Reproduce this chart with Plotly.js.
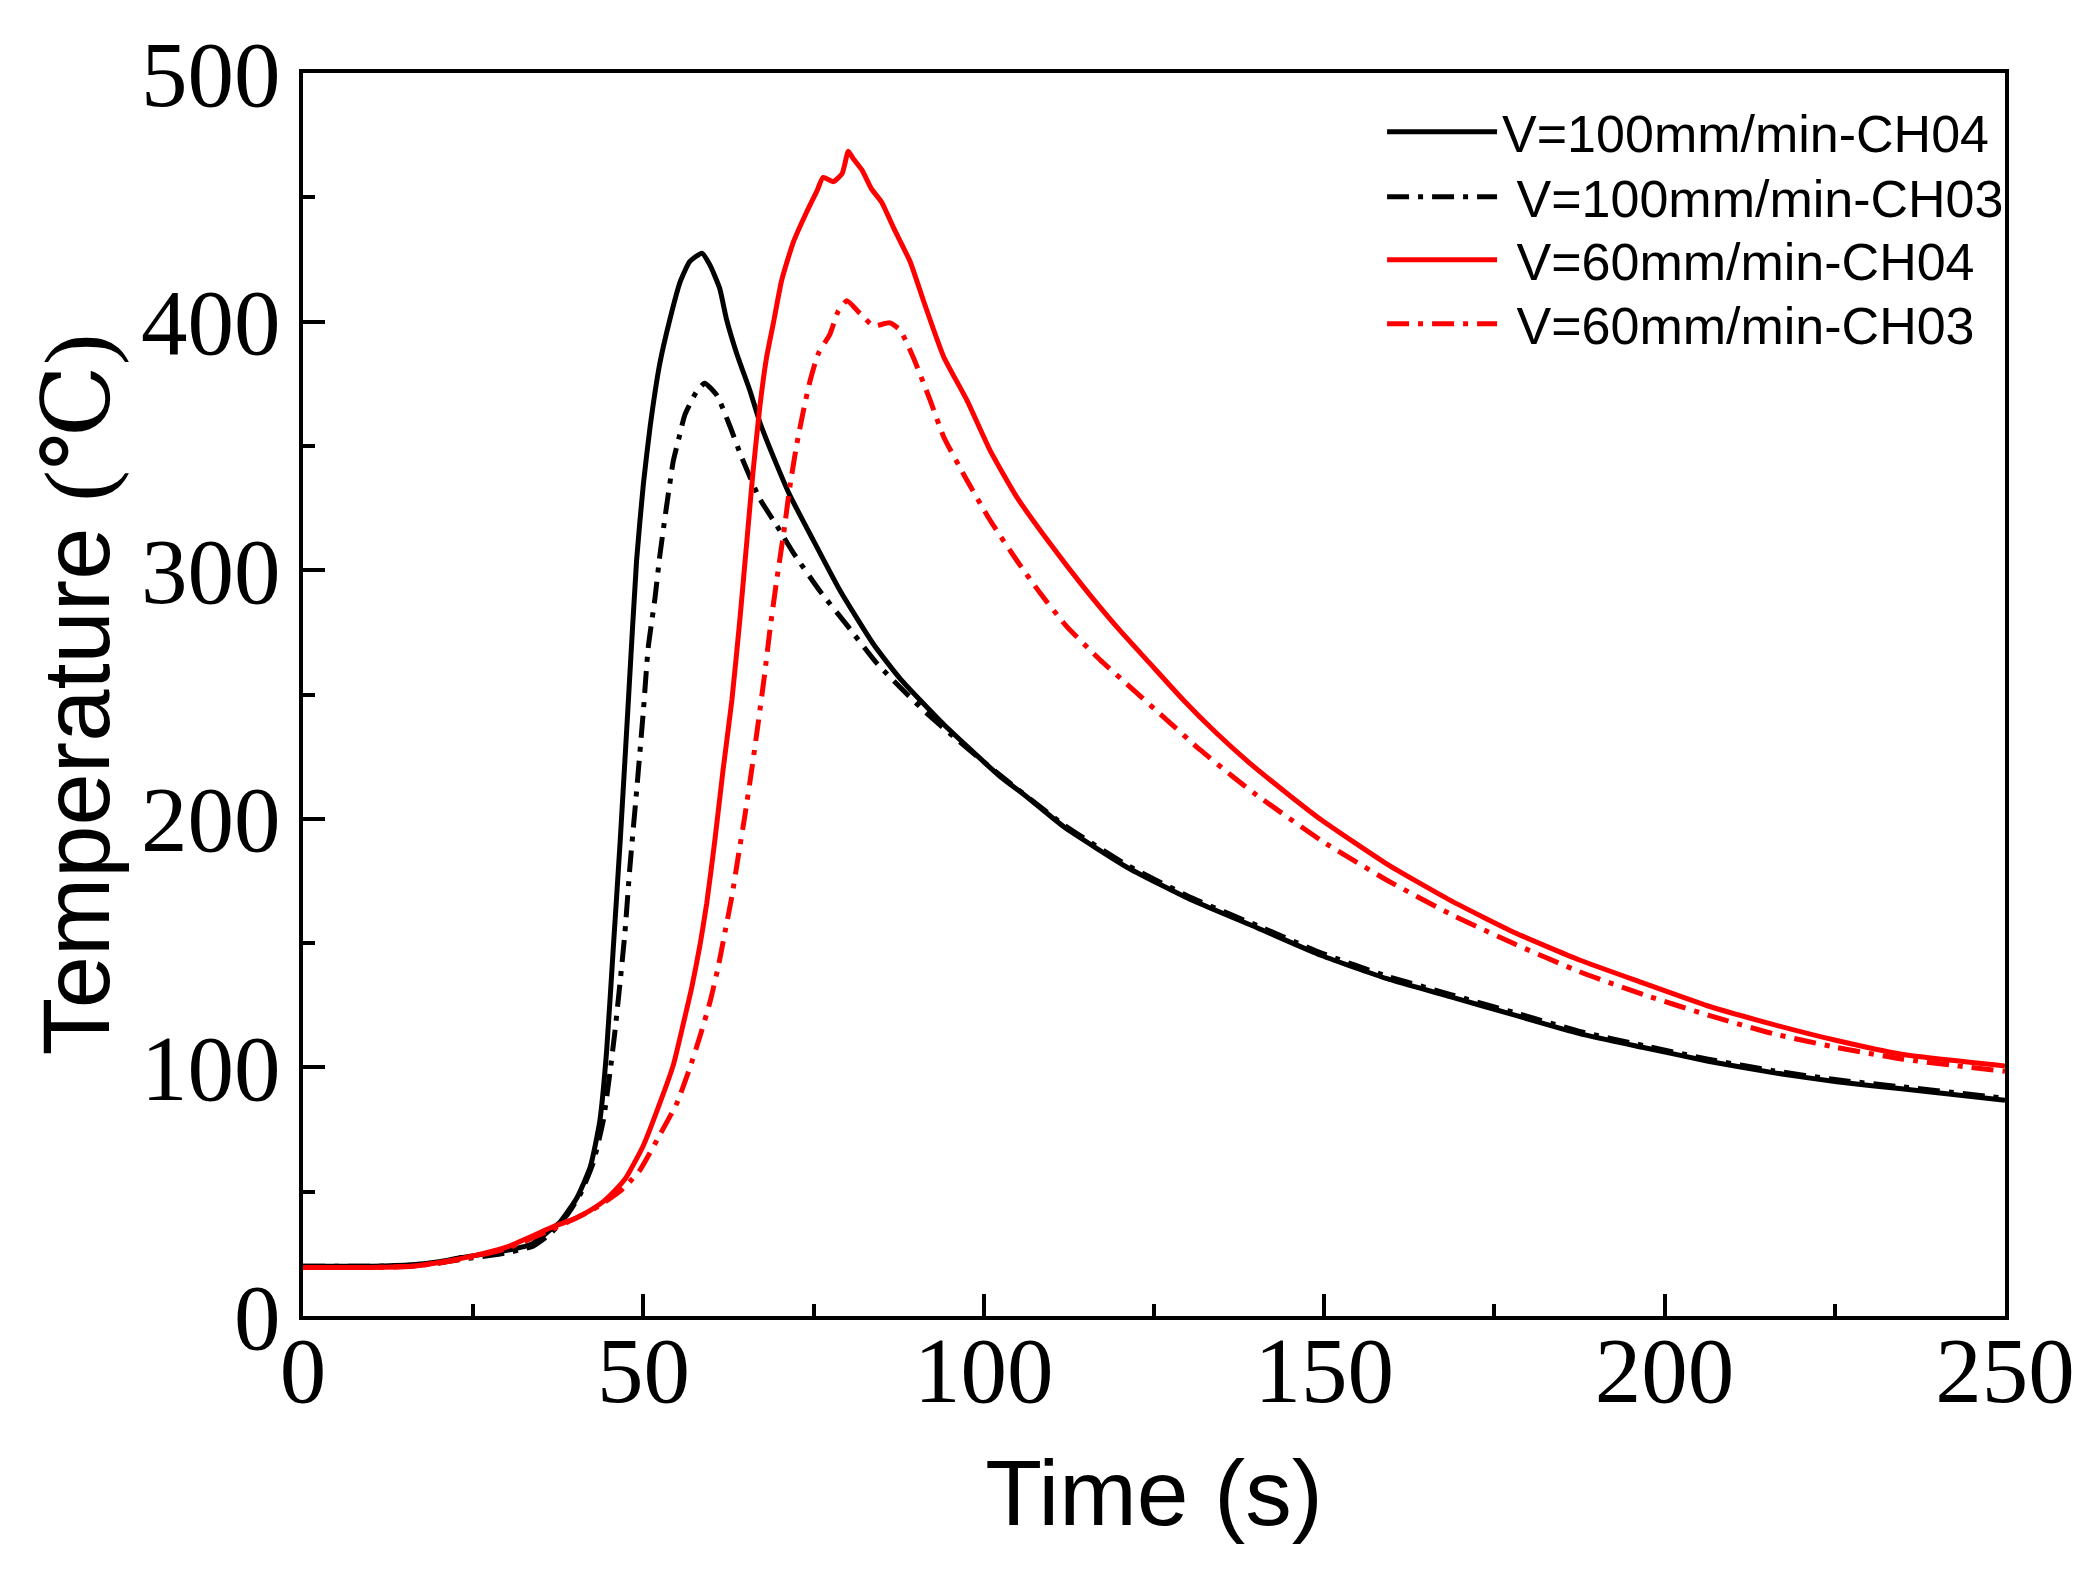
<!DOCTYPE html>
<html>
<head>
<meta charset="utf-8">
<script src="https://cdn.plot.ly/plotly-3.0.1.min.js"></script>
<style>
  body { margin: 0; background: #fff; }
  #chart { width: 2094px; height: 1582px; }
</style>
</head>
<body>
<div id="chart"></div>
<script>
// V=100mm/min-CH04 (black solid)
const t100ch04 = [0, 10, 16, 20, 23.2, 29.1, 33.7, 36.3, 37.7, 40.2, 42.2, 43.6, 44.6, 45.6, 46.6, 47.8, 49.0, 50.0, 51.0, 52.4, 53.9, 55.4, 56.8, 58.6, 59.8, 61.2, 62.2, 63.7, 65.7, 67.1, 69.1, 71.5, 75.0, 78.9, 83.8, 87.7, 94.1, 102.4, 106.3, 111.8, 121.3, 130.7, 140.2, 149.6, 159.1, 168.6, 178, 187.5, 196.9, 206.4, 215.9, 225.3, 234.8, 250];
const T100ch04 = [20, 20, 20.6, 21.8, 23.5, 25.9, 29.1, 34.6, 37.6, 47.4, 60, 78.5, 106.7, 149, 191.4, 247.8, 304, 334.8, 358, 383, 401, 416, 424.1, 427.5, 422.6, 413.4, 401, 387.2, 371.8, 359.5, 345.6, 330.2, 311.8, 291.7, 270.2, 256.4, 238, 217, 208.9, 196.7, 180.1, 167.1, 156.1, 145, 135.8, 128.4, 121, 113.6, 108, 102.5, 97.9, 94.2, 91.4, 86.8];

// V=100mm/min-CH03 (black dash-dot)
const t100ch03 = [0, 10, 16, 20, 23.2, 29.1, 33.7, 36.3, 38.9, 40.7, 42.6, 44.1, 45.1, 45.8, 46.6, 47.3, 48.0, 49.0, 50.0, 50.7, 51.7, 52.4, 53.4, 54.4, 55.1, 56.1, 57.8, 59.0, 60.8, 62.7, 64.4, 67.1, 69.6, 72.0, 75.9, 79.9, 84.3, 88.7, 91.6, 96, 102.4, 111.8, 121.3, 130.7, 140.2, 149.6, 159.1, 168.6, 178, 187.5, 196.9, 206.4, 215.9, 225.3, 234.8, 250];
const T100ch03 = [20, 20, 20.4, 21.3, 22.8, 25, 28, 33, 41, 48.8, 61.5, 78.5, 98.2, 114, 134.9, 154.7, 180, 211.1, 243.6, 268.7, 288.7, 305.6, 325.7, 344.1, 351.8, 362.6, 371.8, 375.2, 370.3, 358, 345.6, 328.7, 317.9, 307.1, 291.7, 277.9, 262.5, 250.2, 242.5, 232, 217.5, 197.5, 181, 168, 157, 146, 136.8, 129.3, 122, 114.5, 108.8, 103.3, 98.7, 95, 92.2, 87.6];

// V=60mm/min-CH04 (red solid)
const t60ch04 = [0, 10, 16, 20, 25, 30, 36.3, 40.2, 42.2, 44.1, 46.0, 47.5, 50.0, 52.4, 54.4, 55.9, 57.1, 58.3, 59.3, 60.5, 61.7, 63.0, 64.2, 65.2, 66.1, 67.1, 68.1, 69.1, 70.3, 72.0, 74.0, 75.5, 76.4, 77.9, 79.2, 80.1, 80.8, 82.1, 83.5, 85.0, 86.7, 89.2, 91.1, 94.1, 97.5, 100.9, 104.8, 109.7, 114.6, 119.5, 124.4, 129.3, 134.2, 139.1, 144.5, 149.6, 159.1, 168.6, 178, 187.5, 196.9, 206.4, 215.9, 225.3, 234.8, 250];
const T60ch04 = [19.5, 19.5, 20, 21.5, 24.2, 27.8, 35.4, 39.5, 42.5, 46, 51, 55.9, 68.6, 85.5, 101, 118, 132.1, 149, 166, 191.4, 219.6, 247.8, 281, 311.8, 339.5, 365.7, 385.7, 399.5, 416.5, 431.8, 444.2, 452.6, 458, 456.3, 459.6, 468.5, 465.6, 461, 453.4, 448, 438, 424, 408.7, 385.9, 368.5, 348.3, 329.6, 310.8, 293.4, 277.3, 262.5, 247.8, 234.4, 222.3, 210.3, 199.5, 182, 167.1, 154.2, 143.2, 133.9, 124.7, 117.3, 110.8, 105.3, 100.6];

// V=60mm/min-CH03 (red dash-dot)
const t60ch03 = [0, 10, 16, 20, 25, 30, 36.3, 40.2, 43.5, 46.6, 48.0, 49.5, 52.4, 54.9, 56.8, 58.3, 59.8, 61.0, 62.0, 63.0, 63.9, 64.9, 65.9, 66.9, 67.8, 68.6, 69.6, 70.6, 71.5, 72.5, 73.5, 74.5, 75.7, 77.4, 78.6, 79.9, 81.8, 83.8, 86.2, 87.7, 89.6, 92.1, 94.1, 97.5, 100.9, 104.8, 108.3, 112.2, 117.1, 122.0, 126.9, 131.8, 136.6, 140.1, 149.6, 159.1, 168.6, 178, 187.5, 196.9, 206.4, 215.9, 225.3, 234.8, 250];
const T60ch03 = [19.5, 19.5, 20, 21.3, 23.8, 27.2, 34.5, 39.5, 44.3, 50.2, 54, 58.7, 72.8, 85.5, 99.6, 112.4, 126.5, 140.6, 154.7, 168.8, 184.3, 201.2, 219.6, 239.3, 258, 276.3, 296.4, 314.8, 333.3, 350.2, 364.1, 376.4, 387.2, 394.9, 404.1, 408.4, 403.3, 398.3, 399.5, 396.6, 385.9, 368.5, 353.7, 336.3, 320.2, 304.1, 290.7, 277.3, 263.9, 251.8, 239.7, 227.7, 216.9, 209.5, 191.2, 175.5, 161.6, 149.6, 138.5, 129.3, 121, 113.6, 108, 103.4, 98.4];

const dashDot = "22px,9px,5px,9px";

const traces = [
  { name: "V=100mm/min-CH04", x: t100ch04, y: T100ch04, type: "scatter", mode: "lines", legend: "legend",
    line: { color: "#000000", width: 5, shape: "spline", smoothing: 0.5 } },
  { name: " V=100mm/min-CH03", x: t100ch03, y: T100ch03, type: "scatter", mode: "lines", legend: "legend2",
    line: { color: "#000000", width: 5, dash: dashDot, shape: "spline", smoothing: 0.5 } },
  { name: " V=60mm/min-CH04", x: t60ch04, y: T60ch04, type: "scatter", mode: "lines", legend: "legend3",
    line: { color: "#ff0000", width: 5, shape: "spline", smoothing: 0.5 } },
  { name: " V=60mm/min-CH03", x: t60ch03, y: T60ch03, type: "scatter", mode: "lines", legend: "legend4",
    line: { color: "#ff0000", width: 5, dash: dashDot, shape: "spline", smoothing: 0.5 } },
];

const axisCommon = {
  showline: true, linewidth: 4, linecolor: "#000", mirror: true,
  showgrid: false, zeroline: false,
  ticks: "inside", ticklen: 22, tickwidth: 4, tickcolor: "#000",
  tickfont: { family: "Liberation Serif", size: 93, color: "#000" },
  automargin: false,
};

function legendAt(y) {
  return {
    x: 0.634, xanchor: "left", y: y, yanchor: "middle",
    bgcolor: "rgba(0,0,0,0)", borderwidth: 0,
    font: { family: "Liberation Sans", size: 52, color: "#000" },
    itemwidth: 110,
  };
}

Plotly.newPlot(
  "chart",
  traces,
  {
    width: 2094,
    height: 1582,
    margin: { l: 303, r: 89, t: 73, b: 266 },
    paper_bgcolor: "#fff",
    plot_bgcolor: "#fff",
    showlegend: true,
    legend: legendAt(0.9525),
    legend2: legendAt(0.9002),
    legend3: legendAt(0.8496),
    legend4: legendAt(0.7981),
    xaxis: Object.assign({}, axisCommon, {
      range: [0, 250], tick0: 0, dtick: 50,
      ticklabelstandoff: -30,
      minor: { dtick: 25, ticks: "inside", ticklen: 12, tickwidth: 4, tickcolor: "#000" },
      title: { text: "Time (s)", font: { family: "Liberation Sans", size: 93, color: "#000" }, standoff: 40 },
    }),
    yaxis: Object.assign({}, axisCommon, {
      range: [0, 500], tick0: 0, dtick: 100,
      minor: { dtick: 50, ticks: "inside", ticklen: 12, tickwidth: 4, tickcolor: "#000" },
      title: {
        text: "Temperature <span style=\"font-family:'Liberation Serif','DejaVu Serif'\">(℃)</span>",
        font: { family: "Liberation Sans", size: 94, color: "#000" }, standoff: 1,
      },
    }),
  },
  { displayModeBar: false, responsive: false }
);
</script>
</body>
</html>
